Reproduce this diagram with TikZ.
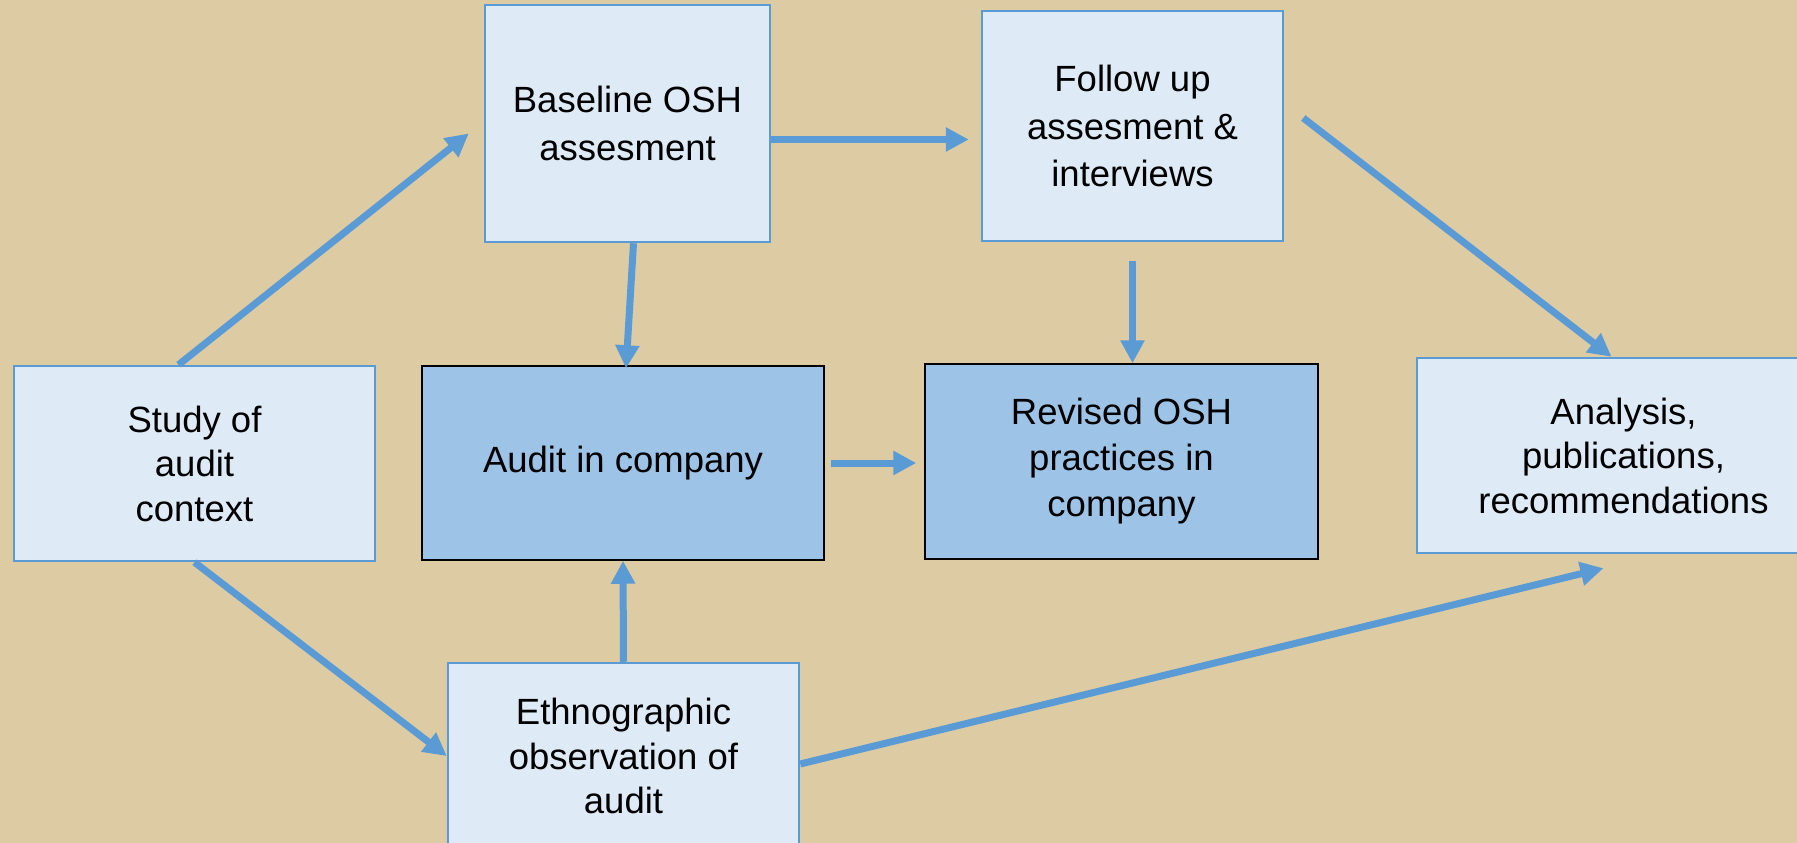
\documentclass[tikz,border=0pt]{standalone}
\usepackage{fontspec}
\setmainfont{Liberation Sans}
\usetikzlibrary{arrows.meta}
\definecolor{tan}{RGB}{221,203,164}
\definecolor{paleblue}{RGB}{222,235,247}
\definecolor{midblue}{RGB}{157,195,230}
\definecolor{edgeblue}{RGB}{91,155,213}

\begin{document}
\begin{tikzpicture}[x=1pt, y=-1pt,
every node/.style={align=center, inner sep=0pt, font=\fontsize{36.5}{44.5}\selectfont},
lightbox/.style={draw=edgeblue, line width=2.5pt, fill=paleblue},
darkbox/.style={draw=black, line width=1.5pt, fill=midblue},
flow/.style={draw=edgeblue, line width=7pt, -{Triangle[length=23pt,width=23pt]}}]

\useasboundingbox (0,0) rectangle (1797,843);
\fill[tan] (0,0) rectangle (1797,843);

\node[lightbox, minimum width=361pt, minimum height=195pt] (study) at (194.5,463.5) {Study of\\audit\\context};
\node[lightbox, minimum width=285pt, minimum height=237pt, font=\fontsize{36.5}{48}\selectfont] (baseline) at (627.5,123.5) {Baseline OSH\\assesment};
\node[lightbox, minimum width=301pt, minimum height=230pt, font=\fontsize{36.5}{47.5}\selectfont] (follow) at (1132.5,126) {Follow up\\assesment \&\\interviews};
\node[darkbox, minimum width=402pt, minimum height=194pt] (audit) at (623,463) {Audit in company};
\node[darkbox, minimum width=393pt, minimum height=195pt, font=\fontsize{36.5}{46}\selectfont] (revised) at (1121.5,461.5) {Revised OSH\\practices in\\company};
\node[lightbox, minimum width=413pt, minimum height=195pt] (analysis) at (1623.5,455.5) {Analysis,\\publications,\\recommendations};
\node[lightbox, minimum width=351pt, minimum height=186pt] (ethno) at (623.5,756) {Ethnographic\\observation of\\audit};

\draw[flow] ([xshift=-16pt]study.north) -- ([xshift=-15pt,yshift=-10pt]baseline.west);
\draw[flow] ([xshift=6pt]baseline.south) -- ([xshift=3pt,yshift=-3pt]audit.north);
\draw[flow] ([yshift=-16pt]baseline.east) -- ([xshift=-12pt,yshift=-13.5pt]follow.west);
\draw[flow] ([yshift=-19pt]follow.south) -- ([xshift=11pt]revised.north);
\draw[flow] ([xshift=19pt,yshift=8pt]follow.east) -- ([xshift=-12pt]analysis.north);
\draw[flow] ([xshift=6pt]audit.east) -- ([xshift=-8pt,yshift=-1.5pt]revised.west);
\draw[flow] (ethno.north) -- (audit.south);
\draw[flow] (study.south) -- (ethno.west);
\draw[flow] ([yshift=-8pt]ethno.east) -- ([xshift=-20pt,yshift=-14pt]analysis.south);
\end{tikzpicture}
\end{document}
